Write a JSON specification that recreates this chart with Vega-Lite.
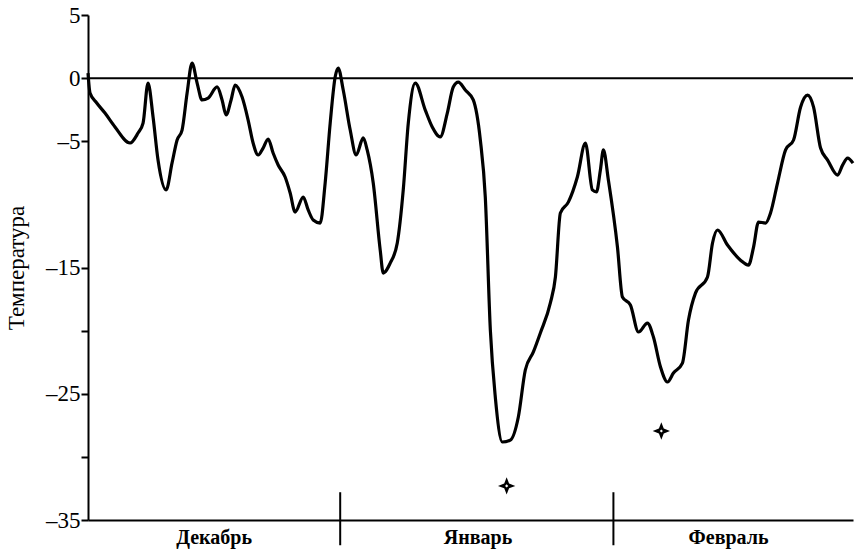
{
  "$schema": "https://vega.github.io/schema/vega-lite/v6.json",
  "width": 765,
  "height": 505,
  "autosize": {"type": "none"},
  "padding": {"left": 88, "top": 15, "right": 3, "bottom": 32},
  "background": "white",
  "config": {
    "view": {"stroke": null},
    "font": "Liberation Serif",
    "axis": {
      "grid": false,
      "domainColor": "black",
      "domainWidth": 2,
      "tickColor": "black",
      "tickWidth": 2,
      "tickSize": 7,
      "labelFont": "Liberation Serif",
      "labelFontSize": 23,
      "labelColor": "black",
      "labelPadding": 1,
      "titleFont": "Liberation Serif",
      "titleFontSize": 23,
      "titleFontWeight": "normal",
      "titleColor": "black"
    }
  },
  "datasets": {
    "temp": [
      {"day": 0, "t": 0.4}, {"day": 0.24, "t": -1.18}, {"day": 1.04, "t": -1.97}, {"day": 2.02, "t": -2.77},
      {"day": 3.21, "t": -3.87}, {"day": 5.0, "t": -5.14}, {"day": 5.95, "t": -4.35}, {"day": 6.55, "t": -3.56},
      {"day": 7.14, "t": -0.39}, {"day": 7.74, "t": -3.08}, {"day": 8.33, "t": -6.49}, {"day": 9.29, "t": -8.86},
      {"day": 10.0, "t": -6.72}, {"day": 10.6, "t": -4.9}, {"day": 11.19, "t": -4.11}, {"day": 11.79, "t": -1.18},
      {"day": 12.38, "t": 1.2}, {"day": 12.98, "t": -0.39}, {"day": 13.57, "t": -1.73}, {"day": 14.29, "t": -1.58},
      {"day": 15.36, "t": -0.7}, {"day": 15.95, "t": -1.73}, {"day": 16.43, "t": -2.92}, {"day": 17.02, "t": -1.73},
      {"day": 17.5, "t": -0.55}, {"day": 18.33, "t": -1.5}, {"day": 19.05, "t": -3.32}, {"day": 19.64, "t": -5.14},
      {"day": 20.24, "t": -6.09}, {"day": 20.83, "t": -5.54}, {"day": 21.43, "t": -4.82}, {"day": 22.02, "t": -5.93},
      {"day": 22.62, "t": -6.88}, {"day": 23.45, "t": -7.83}, {"day": 24.05, "t": -9.1}, {"day": 24.64, "t": -10.61},
      {"day": 25.6, "t": -9.42}, {"day": 26.19, "t": -10.44}, {"day": 26.79, "t": -11.24}, {"day": 27.62, "t": -11.48},
      {"day": 28.21, "t": -8.31}, {"day": 28.81, "t": -3.56}, {"day": 29.4, "t": 0.09}, {"day": 29.76, "t": 0.8},
      {"day": 30.36, "t": -0.94}, {"day": 31.19, "t": -4.11}, {"day": 31.9, "t": -6.09}, {"day": 32.74, "t": -4.74},
      {"day": 33.21, "t": -5.69}, {"day": 33.93, "t": -8.31}, {"day": 34.76, "t": -13.62}, {"day": 35.12, "t": -15.44},
      {"day": 35.95, "t": -14.65}, {"day": 36.79, "t": -13.06}, {"day": 37.5, "t": -8.86}, {"day": 38.1, "t": -3.56},
      {"day": 38.93, "t": -0.39}, {"day": 40.12, "t": -2.53}, {"day": 40.95, "t": -3.87}, {"day": 41.9, "t": -4.66},
      {"day": 42.74, "t": -2.77}, {"day": 43.45, "t": -0.7}, {"day": 44.05, "t": -0.31}, {"day": 44.88, "t": -0.94},
      {"day": 45.83, "t": -1.73}, {"day": 46.67, "t": -4.9}, {"day": 47.26, "t": -9.42}, {"day": 47.86, "t": -19.95},
      {"day": 48.45, "t": -25.26}, {"day": 49.29, "t": -28.82}, {"day": 50.24, "t": -28.67}, {"day": 51.19, "t": -26.84},
      {"day": 52.02, "t": -23.12}, {"day": 52.98, "t": -21.69}, {"day": 53.81, "t": -20.19}, {"day": 55.0, "t": -17.81},
      {"day": 55.6, "t": -15.75}, {"day": 56.19, "t": -10.68}, {"day": 57.14, "t": -9.82}, {"day": 58.21, "t": -7.83},
      {"day": 59.17, "t": -5.14}, {"day": 60.0, "t": -8.86}, {"day": 60.48, "t": -9.02}, {"day": 60.95, "t": -7.28},
      {"day": 61.31, "t": -5.69}, {"day": 61.9, "t": -8.07}, {"day": 62.98, "t": -13.38}, {"day": 63.57, "t": -17.34},
      {"day": 64.52, "t": -17.97}, {"day": 65.48, "t": -20.11}, {"day": 66.55, "t": -19.4}, {"day": 67.26, "t": -20.51},
      {"day": 68.1, "t": -22.88}, {"day": 68.93, "t": -24.07}, {"day": 69.64, "t": -23.36}, {"day": 70.71, "t": -22.57},
      {"day": 71.43, "t": -19.16}, {"day": 72.26, "t": -17.03}, {"day": 73.69, "t": -15.75}, {"day": 74.29, "t": -13.06},
      {"day": 74.88, "t": -12.03}, {"day": 76.07, "t": -13.22}, {"day": 77.62, "t": -14.42}, {"day": 78.57, "t": -14.81},
      {"day": 79.17, "t": -13.38}, {"day": 79.76, "t": -11.4}, {"day": 80.6, "t": -11.48}, {"day": 81.19, "t": -10.68},
      {"day": 82.02, "t": -8.31}, {"day": 82.98, "t": -5.69}, {"day": 83.93, "t": -4.9}, {"day": 84.76, "t": -2.3},
      {"day": 85.6, "t": -1.35}, {"day": 86.31, "t": -2.3}, {"day": 87.14, "t": -5.54}, {"day": 87.98, "t": -6.49},
      {"day": 89.17, "t": -7.68}, {"day": 89.76, "t": -6.89}, {"day": 90.36, "t": -6.34}, {"day": 91.0, "t": -6.73}
    ],
    "stars": [
      {"day": 49.8, "t": -32.3},
      {"day": 68.2, "t": -27.95}
    ],
    "months": [
      {"day": 15.0, "t": -36.4, "month": "Декабрь"},
      {"day": 46.4, "t": -36.4, "month": "Январь"},
      {"day": 76.2, "t": -36.4, "month": "Февраль"}
    ],
    "dividers": [
      {"day": 30.0, "top": -32.8, "bottom": -37.0},
      {"day": 62.5, "top": -32.8, "bottom": -37.0}
    ],
    "zero": [{"t": 0}]
  },
  "layer": [
    {
      "data": {"name": "temp"},
      "mark": {"type": "line", "color": "black", "strokeWidth": 3.2, "interpolate": "monotone"},
      "encoding": {
        "x": {
          "field": "day", "type": "quantitative",
          "scale": {"domain": [0, 91], "nice": false, "zero": false},
          "axis": {"labels": false, "ticks": false, "title": null}
        },
        "y": {
          "field": "t", "type": "quantitative",
          "scale": {"domain": [-35, 5], "nice": false, "zero": false},
          "axis": {
            "title": "Температура",
            "titlePadding": 17,
            "values": [5, 0, -5, -15, -20, -25, -30, -35],
            "labelExpr": "datum.value == -20 || datum.value == -30 ? '' : (datum.value < 0 ? '–' + abs(datum.value) : '' + datum.value)"
          }
        }
      }
    },
    {
      "data": {"name": "zero"},
      "mark": {"type": "rule", "color": "black", "strokeWidth": 2},
      "encoding": {
        "y": {"field": "t", "type": "quantitative"}
      }
    },
    {
      "data": {"name": "stars"},
      "mark": {"type": "point", "filled": true, "color": "black", "opacity": 1, "size": 300,
               "shape": "M0,-1 L0.28,-0.28 L1,0 L0.28,0.28 L0,1 L-0.28,0.28 L-1,0 L-0.28,-0.28 Z"},
      "encoding": {
        "x": {"field": "day", "type": "quantitative"},
        "y": {"field": "t", "type": "quantitative"}
      }
    },
    {
      "data": {"name": "stars"},
      "mark": {"type": "point", "filled": true, "color": "white", "opacity": 1, "size": 10, "shape": "diamond"},
      "encoding": {
        "x": {"field": "day", "type": "quantitative"},
        "y": {"field": "t", "type": "quantitative"}
      }
    },
    {
      "data": {"name": "dividers"},
      "mark": {"type": "rule", "color": "black", "strokeWidth": 2},
      "encoding": {
        "x": {"field": "day", "type": "quantitative"},
        "y": {"field": "top", "type": "quantitative"},
        "y2": {"field": "bottom"}
      }
    },
    {
      "data": {"name": "months"},
      "mark": {"type": "text", "font": "Liberation Serif", "fontSize": 20, "fontWeight": "bold", "color": "black", "align": "center", "baseline": "middle"},
      "encoding": {
        "x": {"field": "day", "type": "quantitative"},
        "y": {"field": "t", "type": "quantitative"},
        "text": {"field": "month"}
      }
    }
  ]
}
